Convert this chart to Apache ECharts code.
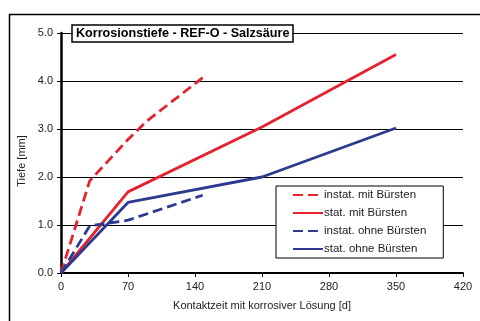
<!DOCTYPE html>
<html><head><meta charset="utf-8">
<script src="https://cdn.jsdelivr.net/npm/echarts@6/dist/echarts.min.js"></script>
<style>html,body{margin:0;padding:0;background:#fff}#c{width:480px;height:321px}</style>
</head><body><div id="c"></div>
<script>
var titleText = 'Korrosionstiefe - REF-O - Salzsäure';
var xName = 'Kontaktzeit mit korrosiver Lösung [d]';
var yName = 'Tiefe [mm]';
var xTicks = [0, 70, 140, 210, 280, 350, 420];
var yTicks = [0, 1, 2, 3, 4, 5];
var seriesNames = ['instat. mit Bürsten', 'stat. mit Bürsten', 'instat. ohne Bürsten', 'stat. ohne Bürsten'];
var instatMitX = [0, 30, 70, 90, 150];
var instatMitY = [0, 1.92, 2.78, 3.17, 4.1];
var statMitX = [0, 70, 210, 350];
var statMitY = [0, 1.69, 3.04, 4.55];
var instatOhneX = [0, 30, 70, 148];
var instatOhneY = [0, 0.98, 1.1, 1.62];
var statOhneX = [0, 70, 210, 350];
var statOhneY = [0, 1.47, 2.0, 3.02];

function pairs(xs, ys){ return xs.map(function(x,i){ return [x, ys[i]]; }); }
var RED = '#e52330', BLUE = '#2e3a8f';
var font = 'Liberation Sans, Arial, sans-serif';

function mk(name, xs, ys, color, dashed){
  return {
    name: name, type: 'line', data: pairs(xs, ys), symbol: 'none', silent: true,
    lineStyle: { color: color, width: 2.8, type: dashed ? [10, 5] : 'solid' },
    itemStyle: { color: color }
  };
}

var chart = echarts.init(document.getElementById('c'), null, {renderer: 'canvas'});
chart.setOption({
  animation: false,
  textStyle: { fontFamily: font },
  grid: { left: 61, right: 17, top: 33, bottom: 48 },
  title: {
    text: titleText, left: 72, top: 25,
    padding: [2, 4, 2, 4],
    borderColor: '#000', borderWidth: 1.5, backgroundColor: '#fff',
    textStyle: { fontFamily: font, fontSize: 12.6, fontWeight: 'bold', color: '#000' }
  },
  legend: {
    data: seriesNames, orient: 'vertical', left: 276, top: 186,
    padding: [3, 17, 3, 16], itemGap: 6, itemWidth: 30, itemHeight: 14,
    borderColor: '#000', borderWidth: 1, backgroundColor: '#fff',
    itemStyle: { opacity: 0 },
    textStyle: { fontFamily: font, fontSize: 11.5, color: '#222', padding: [0,0,0,-4] }
  },
  xAxis: {
    type: 'value', min: 0, max: 420, interval: 70,
    name: xName, nameLocation: 'middle', nameGap: 27,
    nameTextStyle: { fontFamily: font, fontSize: 11, color: '#222' },
    axisLine: { show: true, onZero: false, lineStyle: { color: '#000', width: 2 } },
    axisTick: { show: true, inside: false, length: 4, lineStyle: { color: '#000', width: 1 } },
    axisLabel: { margin: 8, fontFamily: font, fontSize: 11, color: '#222' },
    splitLine: { show: false }
  },
  yAxis: {
    type: 'value', min: 0, max: 5, interval: 1,
    axisLine: { show: true, lineStyle: { color: '#000', width: 2.5 } },
    axisTick: { show: true, inside: false, length: 4, lineStyle: { color: '#000', width: 1 } },
    axisLabel: { margin: 8, fontFamily: font, fontSize: 11, color: '#222',
      formatter: function(v){ return v.toFixed(1); } },
    splitLine: { show: true, lineStyle: { color: '#000', width: 1 } }
  },
  graphic: [
    { type: 'rect', left: 7, top: 12, z: 100, silent: true,
      shape: { width: 520, height: 400 },
      style: { fill: 'none', stroke: '#000', lineWidth: 1.5 } },
    { type: 'text', x: 22, y: 161, rotation: Math.PI / 2, silent: true,
      style: { text: yName, fontFamily: font, fontSize: 11, fill: '#222',
        align: 'center', verticalAlign: 'middle' } }
  ],
  series: [
    mk(seriesNames[0], instatMitX, instatMitY, RED, true),
    mk(seriesNames[1], statMitX, statMitY, RED, false),
    mk(seriesNames[2], instatOhneX, instatOhneY, BLUE, true),
    mk(seriesNames[3], statOhneX, statOhneY, BLUE, false)
  ]
});
</script></body></html>
